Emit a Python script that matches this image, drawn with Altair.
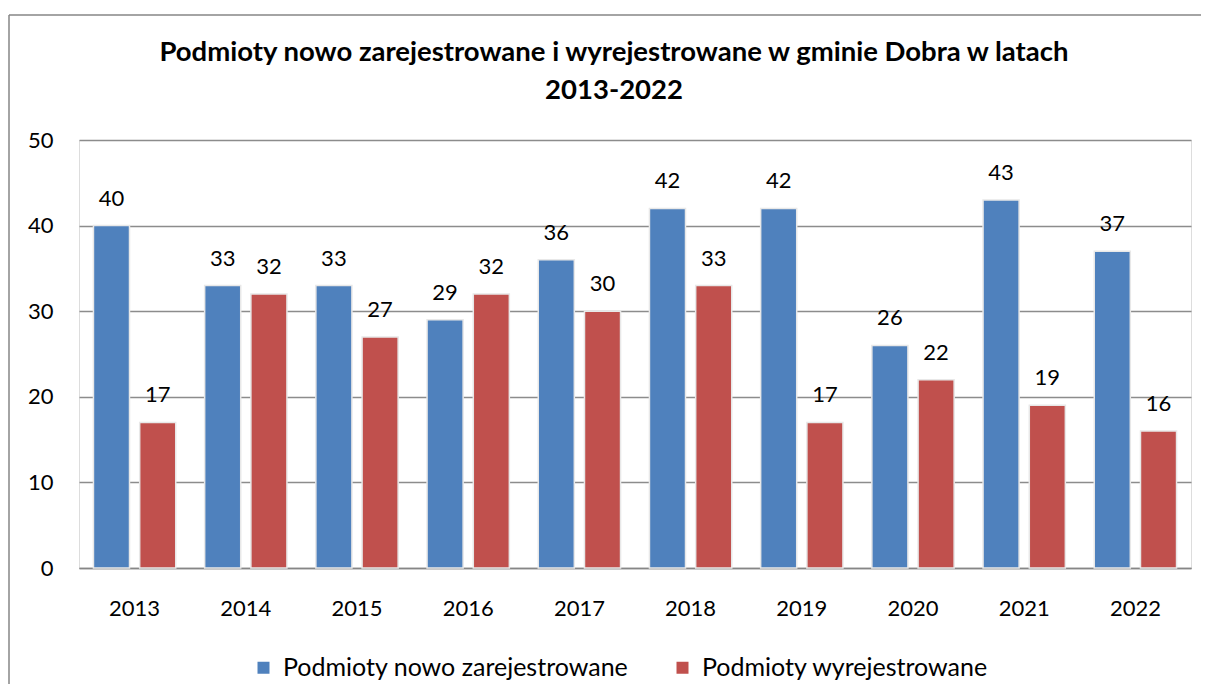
import altair as alt
import pandas as pd

years = ["2013", "2014", "2015", "2016", "2017", "2018", "2019", "2020", "2021", "2022"]
new_reg = [40, 33, 33, 29, 36, 42, 42, 26, 43, 37]
dereg = [17, 32, 27, 32, 30, 33, 17, 22, 19, 16]
series = ["Podmioty nowo zarejestrowane", "Podmioty wyrejestrowane"]
colors = ["#4F81BD", "#C0504D"]

rows = []
for y, a, b in zip(years, new_reg, dereg):
    rows.append({"rok": y, "seria": series[0], "wartosc": a})
    rows.append({"rok": y, "seria": series[1], "wartosc": b})
df = pd.DataFrame(rows)

FONT = "Lato"
W, H = 1112, 428

x = alt.X("rok:N", sort=years, title=None,
          scale=alt.Scale(paddingInner=0.26, paddingOuter=0.13),
          axis=alt.Axis(labelAngle=0, labelFontSize=22, labelFont=FONT, labelColor="#000000",
                        labelPadding=30, ticks=False, domainColor="#868686", domainWidth=1.5))
xo = alt.XOffset("seria:N", sort=series, scale=alt.Scale(paddingInner=0.22, paddingOuter=0))
yenc = alt.Y("wartosc:Q", title=None,
             scale=alt.Scale(domain=[0, 50], nice=False),
             axis=alt.Axis(values=[0, 10, 20, 30, 40, 50], labelFontSize=22, labelFont=FONT,
                           labelColor="#000000", labelPadding=26, ticks=False, domain=False,
                           grid=True, gridColor="#8C8C8C", gridWidth=1.5))
color = alt.Color("seria:N", sort=series, scale=alt.Scale(domain=series, range=colors),
                  legend=alt.Legend(title=None, orient="none", direction="horizontal",
                                    legendX=172, legendY=515, symbolType="square", symbolSize=144,
                                    symbolStrokeWidth=0, labelFontSize=25, labelFont=FONT,
                                    labelColor="#000000", labelOffset=7, columnPadding=41,
                                    labelLimit=600))

bars = alt.Chart(df).mark_bar(stroke="#E8E8E8", strokeWidth=1.5).encode(
    x=x, xOffset=xo, y=yenc, color=color)

labels = alt.Chart(df).mark_text(baseline="middle", align="center", dy=-27,
                                 fontSize=22, font=FONT, color="#000000").encode(
    x=alt.X("rok:N", sort=years), xOffset=alt.XOffset("seria:N", sort=series),
    y="wartosc:Q", text="wartosc:Q")

border_df = pd.DataFrame({"k": [0]})
left_border = alt.Chart(border_df).mark_rule(color="#868686", strokeWidth=1.5).encode(
    x=alt.value(-70), y=alt.value(-125), y2=alt.value(600))
top_border = alt.Chart(border_df).mark_rule(color="#868686", strokeWidth=1.5).encode(
    x=alt.value(-70), x2=alt.value(1200), y=alt.value(-125))

chart = alt.layer(bars, labels, left_border, top_border).properties(
    width=W, height=H,
    title=alt.TitleParams(
        text=["Podmioty nowo zarejestrowane i wyrejestrowane w gminie Dobra w latach", "2013-2022"],
        anchor="middle", fontSize=27.5, font=FONT, fontWeight="bold", color="#000000",
        dx=-21, offset=-90, lineHeight=38),
    autosize=alt.AutoSizeParams(type="none"),
    padding={"left": 71, "top": 132, "right": 10, "bottom": 116},
).configure_view(stroke=None).configure(background="#FFFFFF")

chart.save("out.html", embed_options={"renderer": "svg", "actions": False})
